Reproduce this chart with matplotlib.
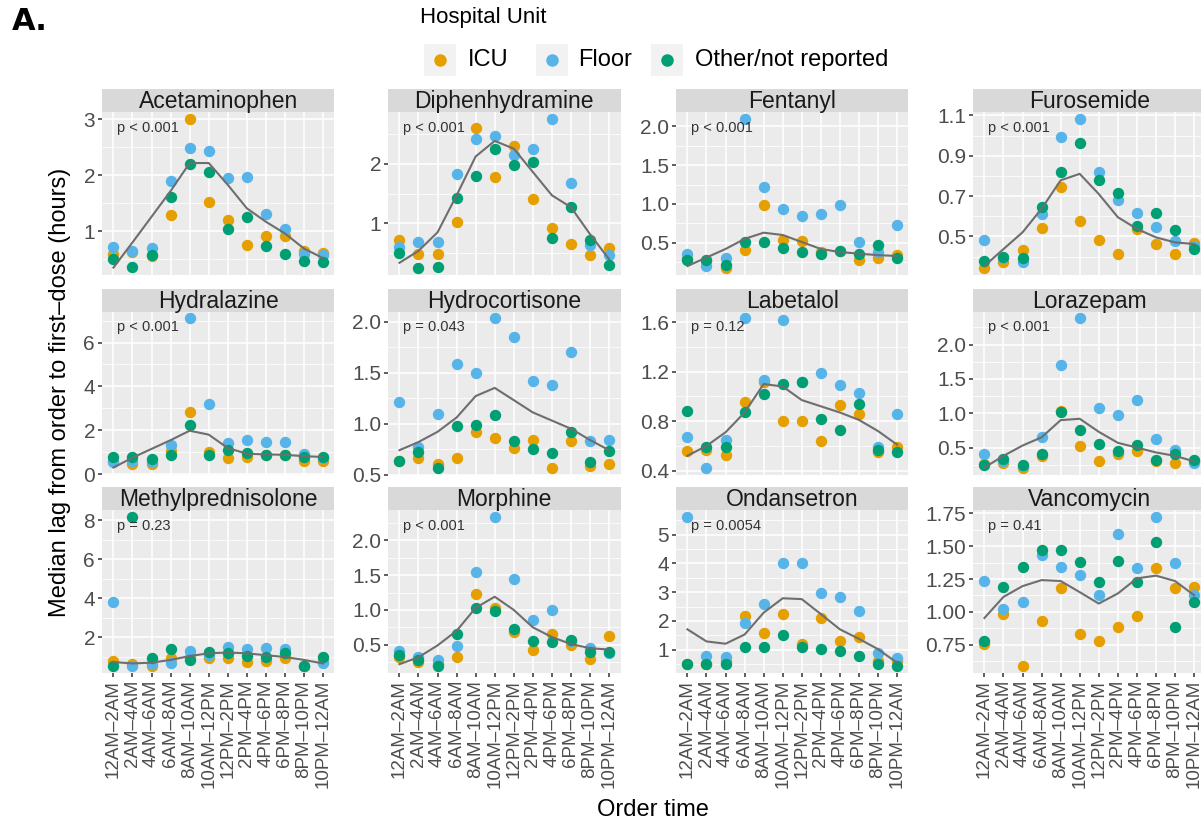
import numpy as np
import matplotlib.pyplot as plt
from matplotlib.patches import Rectangle
from matplotlib.lines import Line2D

plt.rcParams['font.family'] = ['Liberation Sans', 'DejaVu Sans']

# ---- data -------------------------------------------------------------
time_slots = ['12AM–2AM', '2AM–4AM', '4AM–6AM', '6AM–8AM', '8AM–10AM',
              '10AM–12PM', '12PM–2PM', '2PM–4PM', '4PM–6PM', '6PM–8PM',
              '8PM–10PM', '10PM–12AM']
units = ['ICU', 'Floor', 'Other/not reported']
unit_colors = ['#E69F00', '#56B4E9', '#009E73']

acetaminophen_icu = [0.60, 0.62, 0.55, 1.29, 3.00, 1.52, 1.21, 0.75, 0.91, 0.91, 0.65, 0.61]
acetaminophen_floor = [0.71, 0.64, 0.70, 1.89, 2.48, 2.43, 1.95, 1.97, 1.30, 1.04, 0.60, 0.57]
acetaminophen_other = [0.51, 0.36, 0.57, 1.62, 2.21, 2.06, 1.04, 1.26, 0.73, 0.59, 0.46, 0.45]
acetaminophen_all = [0.35, 0.80, 1.26, 1.72, 2.22, 2.22, 1.83, 1.41, 1.17, 0.96, 0.69, 0.52]

diphenhydramine_icu = [0.73, 0.48, 0.48, 1.03, 2.59, 1.78, 2.30, 1.41, 0.93, 0.65, 0.47, 0.58]
diphenhydramine_floor = [0.60, 0.68, 0.68, 1.83, 2.41, 2.47, 2.15, 2.25, 2.74, 1.67, 0.63, 0.47]
diphenhydramine_other = [0.51, 0.26, 0.27, 1.43, 1.80, 2.25, 1.98, 2.02, 0.76, 1.27, 0.72, 0.30]
diphenhydramine_all = [0.34, 0.54, 0.85, 1.47, 2.12, 2.38, 2.25, 1.86, 1.47, 1.27, 0.82, 0.40]

fentanyl_icu = [0.30, 0.26, 0.18, 0.41, 0.99, 0.54, 0.52, 0.38, 0.39, 0.28, 0.30, 0.34]
fentanyl_floor = [0.36, 0.20, 0.31, 2.09, 1.22, 0.94, 0.85, 0.87, 0.99, 0.51, 0.38, 0.73]
fentanyl_other = [0.28, 0.28, 0.21, 0.51, 0.51, 0.43, 0.38, 0.36, 0.39, 0.36, 0.47, 0.31]
fentanyl_all = [0.20, 0.31, 0.42, 0.55, 0.63, 0.60, 0.51, 0.42, 0.38, 0.36, 0.34, 0.33]

furosemide_icu = [0.345, 0.375, 0.43, 0.54, 0.745, 0.575, 0.48, 0.41, 0.537, 0.46, 0.41, 0.467]
furosemide_floor = [0.48, 0.395, 0.375, 0.61, 0.995, 1.08, 0.82, 0.68, 0.617, 0.548, 0.478, 0.45]
furosemide_other = [0.38, 0.40, 0.395, 0.645, 0.82, 0.965, 0.78, 0.715, 0.55, 0.617, 0.532, 0.437]
furosemide_all = [0.353, 0.437, 0.52, 0.637, 0.778, 0.81, 0.71, 0.595, 0.537, 0.495, 0.47, 0.462]

hydralazine_icu = [0.60, 0.45, 0.45, 1.04, 2.84, 1.00, 0.72, 0.78, 0.85, 0.85, 0.60, 0.60]
hydralazine_floor = [0.55, 0.60, 0.55, 1.34, 7.10, 3.22, 1.42, 1.57, 1.47, 1.47, 0.93, 0.75]
hydralazine_other = [0.78, 0.78, 0.69, 0.89, 2.26, 0.89, 1.08, 0.95, 0.89, 0.89, 0.78, 0.78]
hydralazine_all = [0.30, 0.75, 1.15, 1.55, 1.98, 1.80, 1.19, 0.93, 0.90, 0.88, 0.82, 0.78]

hydrocortisone_icu = [0.63, 0.66, 0.60, 0.66, 0.92, 0.86, 0.76, 0.84, 0.57, 0.83, 0.59, 0.60]
hydrocortisone_floor = [1.21, 0.77, 1.09, 1.58, 1.50, 2.03, 1.85, 1.42, 1.38, 1.70, 0.83, 0.84]
hydrocortisone_other = [0.63, 0.72, 0.57, 0.98, 0.99, 1.08, 0.83, 0.75, 0.71, 0.92, 0.62, 0.73]
hydrocortisone_all = [0.74, 0.82, 0.92, 1.06, 1.27, 1.35, 1.23, 1.11, 1.03, 0.95, 0.84, 0.74]

labetalol_icu = [0.555, 0.57, 0.53, 0.955, 1.12, 0.80, 0.80, 0.64, 0.93, 0.855, 0.55, 0.59]
labetalol_floor = [0.67, 0.425, 0.65, 1.63, 1.13, 1.62, 1.12, 1.19, 1.09, 1.03, 0.59, 0.855]
labetalol_other = [0.88, 0.59, 0.59, 0.87, 1.02, 1.10, 1.12, 0.82, 0.73, 0.94, 0.57, 0.55]
labetalol_all = [0.52, 0.60, 0.71, 0.87, 1.10, 1.08, 0.97, 0.92, 0.87, 0.81, 0.72, 0.61]

lorazepam_icu = [0.26, 0.28, 0.21, 0.38, 1.04, 0.52, 0.30, 0.40, 0.45, 0.30, 0.27, 0.30]
lorazepam_floor = [0.41, 0.31, 0.23, 0.65, 1.70, 2.38, 1.08, 0.98, 1.19, 0.63, 0.46, 0.28]
lorazepam_other = [0.25, 0.33, 0.25, 0.40, 1.02, 0.75, 0.55, 0.45, 0.54, 0.32, 0.40, 0.32]
lorazepam_all = [0.21, 0.38, 0.53, 0.65, 0.90, 0.92, 0.73, 0.57, 0.50, 0.43, 0.38, 0.30]

methylpred_icu = [0.79, 0.61, 0.55, 0.92, 1.00, 0.92, 0.92, 0.73, 0.79, 0.96, 0.55, 0.80]
methylpred_floor = [3.81, 0.55, 0.62, 0.66, 1.30, 1.10, 1.51, 1.39, 1.44, 1.39, 0.55, 0.70]
methylpred_other = [0.55, 8.14, 0.92, 1.39, 0.84, 1.25, 1.18, 1.04, 0.99, 1.22, 0.55, 0.99]
methylpred_all = [0.73, 0.66, 0.70, 0.84, 1.04, 1.18, 1.22, 1.18, 1.08, 0.99, 0.84, 0.66]

morphine_icu = [0.33, 0.25, 0.22, 0.33, 1.23, 1.03, 0.68, 0.43, 0.66, 0.50, 0.30, 0.62]
morphine_floor = [0.41, 0.32, 0.28, 0.48, 1.55, 2.33, 1.44, 0.85, 0.995, 0.55, 0.45, 0.38]
morphine_other = [0.35, 0.28, 0.20, 0.65, 1.03, 0.99, 0.72, 0.56, 0.54, 0.57, 0.39, 0.40]
morphine_all = [0.22, 0.32, 0.49, 0.70, 1.03, 1.19, 1.00, 0.75, 0.61, 0.51, 0.45, 0.43]

ondansetron_icu = [0.50, 0.50, 0.60, 2.18, 1.59, 2.26, 1.21, 2.12, 1.29, 1.44, 0.60, 0.62]
ondansetron_floor = [5.60, 0.80, 0.75, 1.94, 2.59, 4.02, 4.02, 2.98, 2.82, 2.35, 0.88, 0.70]
ondansetron_other = [0.50, 0.50, 0.50, 1.09, 1.09, 1.51, 1.09, 1.02, 0.94, 0.79, 0.50, 0.45]
ondansetron_all = [1.71, 1.29, 1.21, 1.53, 2.29, 2.79, 2.76, 2.24, 1.71, 1.38, 1.02, 0.55]

vancomycin_icu = [0.755, 0.98, 0.59, 0.927, 1.183, 0.832, 0.78, 0.888, 0.965, 1.332, 1.178, 1.186]
vancomycin_floor = [1.235, 1.024, 1.076, 1.435, 1.345, 1.28, 1.127, 1.596, 1.332, 1.72, 1.37, 1.132]
vancomycin_other = [0.78, 1.186, 1.345, 1.47, 1.468, 1.383, 1.224, 1.388, 1.23, 1.53, 0.883, 1.076]
vancomycin_all = [0.953, 1.114, 1.196, 1.242, 1.235, 1.15, 1.063, 1.14, 1.255, 1.276, 1.235, 1.127]

drugs = ['Acetaminophen', 'Diphenhydramine', 'Fentanyl', 'Furosemide',
         'Hydralazine', 'Hydrocortisone', 'Labetalol', 'Lorazepam',
         'Methylprednisolone', 'Morphine', 'Ondansetron', 'Vancomycin']
p_labels = ['p < 0.001', 'p < 0.001', 'p < 0.001', 'p < 0.001',
            'p < 0.001', 'p = 0.043', 'p = 0.12', 'p < 0.001',
            'p = 0.23', 'p < 0.001', 'p = 0.0054', 'p = 0.41']
y_ticks = [[1, 2, 3], [1, 2], [0.5, 1.0, 1.5, 2.0], [0.5, 0.7, 0.9, 1.1],
           [0, 2, 4, 6], [0.5, 1.0, 1.5, 2.0], [0.4, 0.8, 1.2, 1.6], [0.5, 1.0, 1.5, 2.0],
           [2, 4, 6, 8], [0.5, 1.0, 1.5, 2.0], [1, 2, 3, 4, 5], [0.75, 1.00, 1.25, 1.50, 1.75]]
y_ticklabels = [['1', '2', '3'], ['1', '2'], ['0.5', '1.0', '1.5', '2.0'], ['0.5', '0.7', '0.9', '1.1'],
                ['0', '2', '4', '6'], ['0.5', '1.0', '1.5', '2.0'], ['0.4', '0.8', '1.2', '1.6'],
                ['0.5', '1.0', '1.5', '2.0'], ['2', '4', '6', '8'], ['0.5', '1.0', '1.5', '2.0'],
                ['1', '2', '3', '4', '5'], ['0.75', '1.00', '1.25', '1.50', '1.75']]

panel_series = [
    (acetaminophen_icu, acetaminophen_floor, acetaminophen_other, acetaminophen_all),
    (diphenhydramine_icu, diphenhydramine_floor, diphenhydramine_other, diphenhydramine_all),
    (fentanyl_icu, fentanyl_floor, fentanyl_other, fentanyl_all),
    (furosemide_icu, furosemide_floor, furosemide_other, furosemide_all),
    (hydralazine_icu, hydralazine_floor, hydralazine_other, hydralazine_all),
    (hydrocortisone_icu, hydrocortisone_floor, hydrocortisone_other, hydrocortisone_all),
    (labetalol_icu, labetalol_floor, labetalol_other, labetalol_all),
    (lorazepam_icu, lorazepam_floor, lorazepam_other, lorazepam_all),
    (methylpred_icu, methylpred_floor, methylpred_other, methylpred_all),
    (morphine_icu, morphine_floor, morphine_other, morphine_all),
    (ondansetron_icu, ondansetron_floor, ondansetron_other, ondansetron_all),
    (vancomycin_icu, vancomycin_floor, vancomycin_other, vancomycin_all),
]

# ---- layout (pixels) --------------------------------------------------
W, H = 1201, 824
fig = plt.figure(figsize=(W / 100, H / 100), dpi=100)


def px_axes(x0, y0, w, h):
    return fig.add_axes([x0 / W, 1 - (y0 + h) / H, w / W, h / H])


col_left = [102, 388, 676, 973]
panel_w = 232.5
strip_top = [89, 289, 487]
strip_h = 23
plot_top = [112, 311, 510]
plot_h = [163, 164, 163]

x = np.arange(len(time_slots))

for i, drug in enumerate(drugs):
    r, c = divmod(i, 4)
    ax = px_axes(col_left[c], plot_top[r], panel_w, plot_h[r])
    ax.set_facecolor('#EBEBEB')
    for s in ax.spines.values():
        s.set_visible(False)

    series = panel_series[i]
    for vals, col in zip(series[:3], unit_colors):
        ax.plot(x, vals, 'o', color=col, ms=8.2, mec='none', zorder=3)
    ax.plot(x, series[3], color='#6E6E6E', lw=1.5, zorder=4)

    yt = y_ticks[i]
    step = yt[1] - yt[0]
    ax.set_yticks(yt)
    ax.set_yticklabels(y_ticklabels[i])
    ax.set_yticks(np.arange(yt[0] - step / 2, yt[-1] + step, step), minor=True)
    ax.set_xticks(x)

    # limits after the ticks, as set_yticks widens the view
    allv = np.concatenate([np.asarray(v, float) for v in series])
    lo, hi = allv.min(), allv.max()
    pad = 0.05 * (hi - lo)
    ax.set_ylim(lo - pad, hi + pad)
    ax.set_xlim(-0.6, len(time_slots) - 0.4)

    if r == 2:
        ax.set_xticklabels(time_slots, rotation=90, ha='center', va='top')
        ax.tick_params(axis='x', length=3, width=1.1, color='#333333',
                       labelsize=13.5, labelcolor='#4D4D4D', pad=2)
    else:
        ax.set_xticklabels([])
        ax.tick_params(axis='x', length=0)
    ax.tick_params(axis='y', which='major', length=3, width=1.1, color='#333333',
                   labelsize=15, labelcolor='#4D4D4D', pad=2)
    ax.tick_params(axis='y', which='minor', length=0)
    ax.grid(which='major', color='white', lw=1.1)
    ax.grid(which='minor', axis='y', color='white', lw=0.55)
    ax.set_axisbelow(True)

    ax.text(0.065, 0.9, p_labels[i], transform=ax.transAxes, ha='left', va='center',
            fontsize=10.5, color='#333333', zorder=5)

    st = px_axes(col_left[c], strip_top[r], panel_w, strip_h)
    st.set_facecolor('#D9D9D9')
    st.set_xticks([])
    st.set_yticks([])
    for s in st.spines.values():
        s.set_visible(False)
    st.text(0.5, 0.45, drug, ha='center', va='center', fontsize=16.5, color='#1A1A1A')

# ---- legend -----------------------------------------------------------
fig.text(420 / W, 1 - 18 / H, 'Hospital Unit', ha='left', va='center', fontsize=16)
key_x = [440, 552, 667]
text_x = [468, 578, 695]
for kx, tx, lab, col in zip(key_x, text_x, units, unit_colors):
    fig.add_artist(Rectangle(((kx - 16) / W, 1 - (60 + 16) / H), 32 / W, 32 / H,
                             transform=fig.transFigure, facecolor='#F2F2F2',
                             edgecolor='none'))
    fig.add_artist(Line2D([kx / W], [1 - 60 / H], marker='o', ms=9, color=col,
                          mec='none', transform=fig.transFigure))
    fig.text(tx / W, 1 - 60 / H, lab, ha='left', va='center', fontsize=17)

fig.text(12 / W, 1 - 22 / H, 'A.', ha='left', va='center', fontsize=22,
         fontweight='bold', family='DejaVu Sans')
fig.text(60 / W, 1 - 392 / H, 'Median lag from order to first–dose (hours)',
         rotation=90, ha='center', va='center', fontsize=17)
fig.text(653 / W, 1 - 810 / H, 'Order time', ha='center', va='center', fontsize=17)

fig.savefig('out.png', dpi=100)
